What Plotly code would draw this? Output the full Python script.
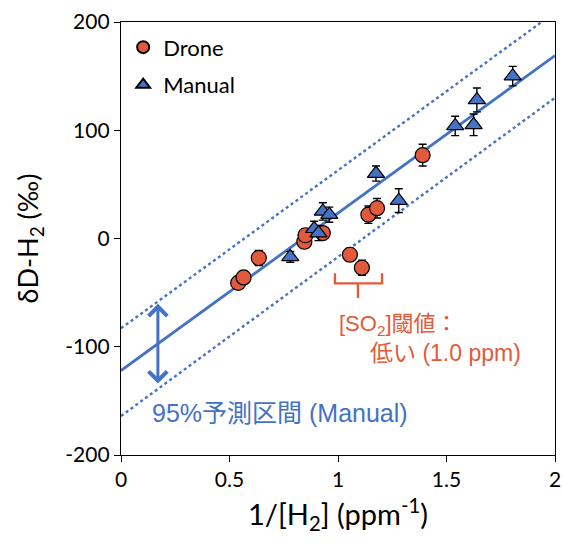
import plotly.graph_objects as go

# ---- data ----
drone_x = [0.54, 0.565, 0.635, 0.845, 0.85, 0.93, 1.055, 1.11, 1.14, 1.18, 1.39]
drone_y = [-41, -36, -18, -3, 3, 5, -15, -27, 22, 28, 77]
drone_err = [6, 6, 7, 6, 6, 6, 6, 7, 8, 9, 10]

manual_x = [0.78, 0.89, 0.91, 0.93, 0.96, 1.175, 1.28, 1.54, 1.625, 1.64, 1.805]
manual_y = [-17, 9, 5, 25, 22, 60, 35, 104, 105, 128, 150]
manual_err = [5, 7, 7, 8, 7, 7, 11, 9, 10, 11, 9]

fit_x = [0, 2]
fit_y = [-122, 169]
upper_y = [-83, 209]
lower_y = [-164, 130]

x_ticks = [0, 0.5, 1, 1.5, 2]
x_tick_text = ["0", "0.5", "1", "1.5", "2"]
y_ticks = [-200, -100, 0, 100, 200]
y_tick_text = ["-200", "-100", "0", "100", "200"]

blue = "#4472C4"
red = "#E15A3B"
fnt = "Lato, Liberation Sans, sans-serif"
ann = "Liberation Sans, Noto Sans CJK JP, sans-serif"

fig = go.Figure()

fig.add_trace(go.Scatter(x=fit_x, y=upper_y, mode="lines",
                         line=dict(color=blue, width=2.4, dash="dot"),
                         showlegend=False, hoverinfo="skip"))
fig.add_trace(go.Scatter(x=fit_x, y=lower_y, mode="lines",
                         line=dict(color=blue, width=2.4, dash="dot"),
                         showlegend=False, hoverinfo="skip"))
fig.add_trace(go.Scatter(x=fit_x, y=fit_y, mode="lines",
                         line=dict(color=blue, width=2.8),
                         showlegend=False, hoverinfo="skip"))

fig.add_trace(go.Scatter(
    x=drone_x, y=drone_y, mode="markers", name="Drone", legendgroup="d",
    marker=dict(symbol="circle", size=15, color=red,
                line=dict(color="black", width=1.2)),
    error_y=dict(type="data", array=drone_err, color="black",
                 thickness=1.4, width=4)))
fig.add_trace(go.Scatter(
    x=manual_x, y=manual_y, mode="markers", name="Manual", legendgroup="m",
    marker=dict(symbol="triangle-up", size=15, color=blue,
                line=dict(color="black", width=1.2)),
    error_y=dict(type="data", array=manual_err, color="black",
                 thickness=1.4, width=4)))

# double-headed arrow for prediction interval
fig.add_annotation(x=0.17, y=-134, ax=0.17, ay=-59, xref="x", yref="y",
                   axref="x", ayref="y", text="", showarrow=True,
                   arrowhead=4, startarrowhead=4, arrowside="end+start",
                   arrowsize=1.2, arrowwidth=3, arrowcolor=blue)

fig.add_annotation(x=0.733, y=-161, xref="x", yref="y", showarrow=False,
                   text="95%予測区間 (Manual)",
                   font=dict(family=ann, size=25, color=blue))

# bracket for low SO2 threshold points
fig.add_shape(type="path", xref="x", yref="y",
              path="M 0.986,-32 L 0.986,-41.5 L 1.203,-41.5 L 1.203,-32 M 1.092,-41.5 L 1.092,-55",
              line=dict(color=red, width=2.4))

fig.add_annotation(x=0.995, y=-80, xref="x", yref="y", showarrow=False,
                   xanchor="left",
                   text="[SO<sub>2</sub>]閾値：",
                   font=dict(family=ann, size=22, color=red))
fig.add_annotation(x=1.14, y=-106, xref="x", yref="y", showarrow=False,
                   xanchor="left",
                   text="低い (1.0 ppm)",
                   font=dict(family=ann, size=23, color=red))

fig.update_layout(
    width=563, height=549,
    margin=dict(l=121, r=8, t=22, b=94),
    plot_bgcolor="white", paper_bgcolor="white",
    font=dict(family=fnt, size=21, color="black"),
    legend=dict(x=0.005, y=0.99, xanchor="left", yanchor="top",
                bgcolor="rgba(0,0,0,0)", font=dict(size=22, family=fnt),
                itemsizing="constant", tracegroupgap=6),
    xaxis=dict(range=[0, 2], tickvals=x_ticks, ticktext=x_tick_text,
               showgrid=False, zeroline=False, showline=True, mirror=True,
               linecolor="black", linewidth=1.3, ticks="outside",
               ticklen=6, tickcolor="black", automargin=False,
               title=dict(text="1/[H<sub>2</sub>] (ppm<sup>-1</sup>)",
                          font=dict(size=29), standoff=14)),
    yaxis=dict(range=[-200, 200], tickvals=y_ticks, ticktext=y_tick_text,
               showgrid=False, zeroline=False, showline=True, mirror=True,
               linecolor="black", linewidth=1.3, ticks="outside",
               ticklen=6, tickcolor="black", automargin=False,
               title=dict(text="δD-H<sub>2</sub> (‰)",
                          font=dict(size=27), standoff=18)),
)

fig.write_html("out.html")
